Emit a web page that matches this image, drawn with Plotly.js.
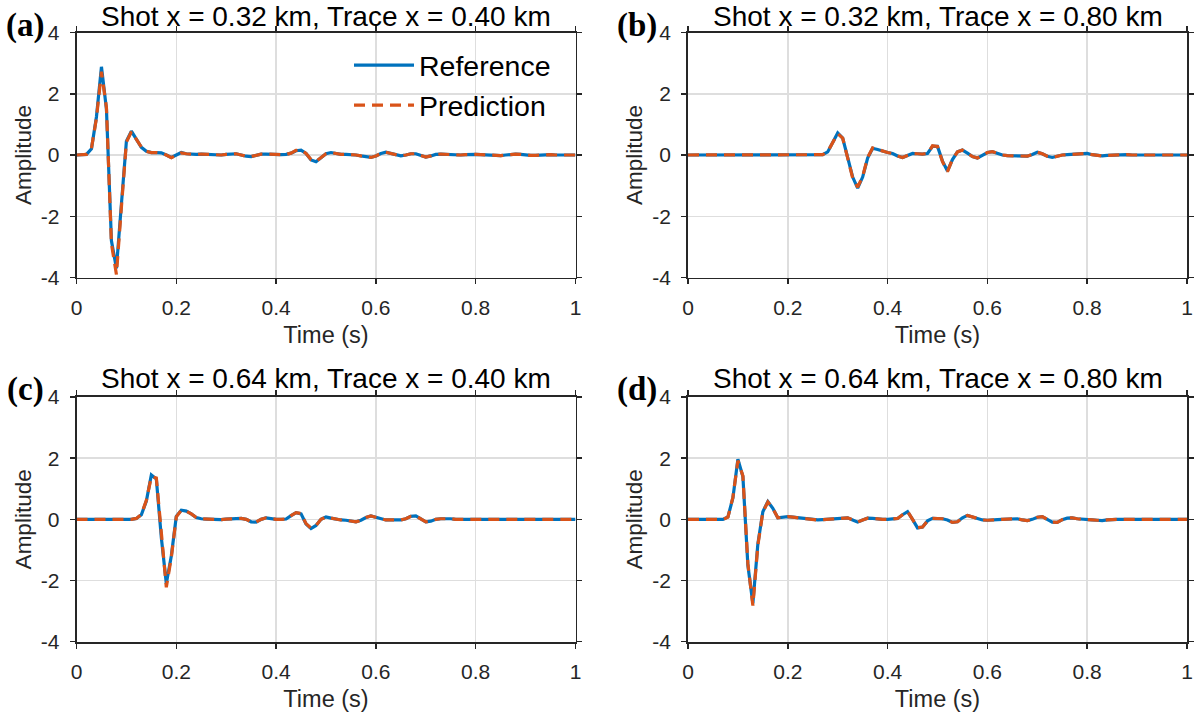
<!DOCTYPE html>
<html>
<head>
<meta charset="utf-8">
<script src="https://cdn.plot.ly/plotly-3.0.1.min.js"></script>
<style>html,body{margin:0;padding:0;background:#fff;}#chart{width:1194px;height:719px;}</style>
</head>
<body>
<div id="chart"></div>
<script>
// ---- Data ----
const time = [0.00,0.01,0.02,0.03,0.04,0.05,0.06,0.07,0.08,0.09,
  0.10,0.11,0.12,0.13,0.14,0.15,0.16,0.17,0.18,0.19,
  0.20,0.21,0.22,0.23,0.24,0.25,0.26,0.27,0.28,0.29,
  0.30,0.31,0.32,0.33,0.34,0.35,0.36,0.37,0.38,0.39,
  0.40,0.41,0.42,0.43,0.44,0.45,0.46,0.47,0.48,0.49,
  0.50,0.51,0.52,0.53,0.54,0.55,0.56,0.57,0.58,0.59,
  0.60,0.61,0.62,0.63,0.64,0.65,0.66,0.67,0.68,0.69,
  0.70,0.71,0.72,0.73,0.74,0.75,0.76,0.77,0.78,0.79,
  0.80,0.81,0.82,0.83,0.84,0.85,0.86,0.87,0.88,0.89,
  0.90,0.91,0.92,0.93,0.94,0.95,0.96,0.97,0.98,0.99,1.00];

// (a) Shot 0.32 km, Trace 0.40 km
const refA = [0,0,0.02,0.2,1.25,2.88,1.5,-2.8,-3.7,-1.6,
  0.45,0.78,0.5,0.25,0.12,0.08,0.08,0.07,0.0,-0.08,
  0.0,0.08,0.04,0.02,0.02,0.03,0.02,0.01,0.0,0.0,
  0.02,0.04,0.04,0.0,-0.04,-0.05,-0.01,0.03,0.03,0.02,
  0.02,0.01,0.02,0.06,0.14,0.16,0.05,-0.16,-0.22,-0.1,
  0.04,0.08,0.05,0.02,0.02,0.02,0.0,-0.03,-0.06,-0.08,
  -0.03,0.05,0.09,0.05,-0.01,-0.03,0.0,0.04,0.04,-0.02,
  -0.07,-0.03,0.02,0.03,0.02,0.01,0.0,0.0,0.01,0.02,
  0.02,0.01,0.0,-0.01,-0.02,-0.02,0.0,0.02,0.03,0.02,
  0.0,-0.01,-0.01,0.0,0.01,0.01,0.0,0.0,0.0,0.0,0.0];
const predA = [0,0,0.02,0.22,1.2,2.72,1.55,-2.9,-3.9,-1.7,
  0.42,0.76,0.5,0.26,0.12,0.08,0.08,0.06,0.0,-0.09,
  0.0,0.07,0.04,0.02,0.02,0.03,0.02,0.01,0.0,0.0,
  0.02,0.04,0.04,0.0,-0.04,-0.05,-0.01,0.03,0.03,0.02,
  0.02,0.01,0.02,0.06,0.15,0.17,0.05,-0.15,-0.21,-0.1,
  0.04,0.08,0.05,0.02,0.02,0.02,0.0,-0.03,-0.06,-0.08,
  -0.03,0.05,0.09,0.05,-0.01,-0.03,0.0,0.04,0.04,-0.02,
  -0.07,-0.03,0.02,0.03,0.02,0.01,0.0,0.0,0.01,0.02,
  0.02,0.01,0.0,-0.01,-0.02,-0.02,0.0,0.02,0.03,0.02,
  0.0,-0.01,-0.01,0.0,0.01,0.01,0.0,0.0,0.0,0.0,0.0];

// (b) Shot 0.32 km, Trace 0.80 km
const refB = [0,0,0,0,0,0,0,0,0,0,
  0,0,0,0,0,0,0,0,0,0,
  0,0,0,0,0,0,0,0.01,0.1,0.4,
  0.72,0.55,-0.1,-0.72,-1.08,-0.72,-0.1,0.22,0.18,0.12,
  0.08,0.05,-0.03,-0.08,-0.02,0.05,0.04,0.03,0.05,0.28,
  0.28,-0.2,-0.52,-0.15,0.1,0.16,0.06,-0.05,-0.1,-0.02,
  0.08,0.11,0.05,0.0,-0.02,-0.03,-0.03,-0.04,-0.04,0.02,
  0.09,0.04,-0.04,-0.08,-0.04,0.0,0.01,0.02,0.03,0.05,
  0.05,0.01,-0.02,-0.03,-0.01,0.0,0.0,0.01,0.01,0.0,
  0.0,0.0,0.0,0.0,0.0,0.0,0.0,0.0,0.0,0.0,0.0];
const predB = [0,0,0,0,0,0,0,0,0,0,
  0,0,0,0,0,0,0,0,0,0,
  0,0,0,0,0,0,0,0.01,0.11,0.42,
  0.7,0.55,-0.12,-0.75,-1.05,-0.7,-0.08,0.23,0.18,0.12,
  0.08,0.05,-0.03,-0.08,-0.02,0.05,0.04,0.03,0.05,0.3,
  0.28,-0.22,-0.54,-0.14,0.1,0.16,0.06,-0.05,-0.1,-0.02,
  0.08,0.11,0.05,0.0,-0.02,-0.03,-0.03,-0.04,-0.04,0.02,
  0.09,0.04,-0.04,-0.08,-0.04,0.0,0.01,0.02,0.03,0.05,
  0.05,0.01,-0.02,-0.03,-0.01,0.0,0.0,0.01,0.01,0.0,
  0.0,0.0,0.0,0.0,0.0,0.0,0.0,0.0,0.0,0.0,0.0];

// (c) Shot 0.64 km, Trace 0.40 km
const refC = [0,0,0,0,0,0,0,0,0,0,
  0,0,0.03,0.15,0.6,1.45,1.32,-0.6,-2.1,-1.2,
  0.1,0.3,0.27,0.18,0.06,0.02,0.01,0.0,-0.02,-0.01,
  0.01,0.02,0.03,0.03,0.0,-0.08,-0.09,0.0,0.05,0.02,
  0.0,0.0,0.01,0.12,0.22,0.18,-0.15,-0.3,-0.2,0.0,
  0.08,0.04,0.0,-0.02,-0.03,-0.06,-0.08,-0.03,0.06,0.11,
  0.06,0.01,-0.02,-0.02,-0.02,-0.02,0.02,0.1,0.11,0.0,
  -0.08,-0.06,0.0,0.02,0.03,0.02,0.0,0.0,0.0,0.01,
  0.01,0.0,0.0,0.0,0.0,0.0,0.0,0.0,0.0,0.0,
  0.0,0.0,0.0,0.0,0.0,0.0,0.0,0.0,0.0,0.0,0.0];
const predC = [0,0,0,0,0,0,0,0,0,0,
  0,0,0.03,0.16,0.62,1.4,1.35,-0.55,-2.22,-1.25,
  0.08,0.3,0.27,0.18,0.06,0.02,0.01,0.0,-0.02,-0.01,
  0.01,0.02,0.03,0.03,0.0,-0.08,-0.09,0.0,0.05,0.02,
  0.0,0.0,0.01,0.12,0.22,0.19,-0.14,-0.29,-0.2,0.0,
  0.08,0.04,0.0,-0.02,-0.03,-0.06,-0.08,-0.03,0.06,0.11,
  0.06,0.01,-0.02,-0.02,-0.02,-0.02,0.02,0.1,0.11,0.0,
  -0.08,-0.06,0.0,0.02,0.03,0.02,0.0,0.0,0.0,0.01,
  0.01,0.0,0.0,0.0,0.0,0.0,0.0,0.0,0.0,0.0,
  0.0,0.0,0.0,0.0,0.0,0.0,0.0,0.0,0.0,0.0,0.0];

// (d) Shot 0.64 km, Trace 0.80 km
const refD = [0,0,0,0,0,0,0,0,0.08,0.7,
  1.97,1.4,-1.5,-2.75,-0.8,0.25,0.58,0.36,0.05,0.06,
  0.09,0.07,0.05,0.03,0.01,-0.01,-0.02,-0.01,0.0,0.0,
  0.01,0.03,0.05,-0.02,-0.09,-0.02,0.04,0.03,0.01,0.0,
  0.0,0.01,0.03,0.15,0.25,0.0,-0.28,-0.25,-0.05,0.03,
  0.03,0.02,-0.02,-0.1,-0.08,0.05,0.13,0.08,0.02,-0.02,
  -0.03,-0.03,-0.01,0.0,0.01,0.03,0.02,-0.02,-0.04,0.0,
  0.07,0.09,0.0,-0.09,-0.1,-0.01,0.04,0.05,0.02,0.0,
  -0.01,-0.02,-0.03,-0.04,-0.02,0.0,0.0,0.0,0.0,0.0,
  0.0,0.0,0.0,0.0,0.0,0.0,0.0,0.0,0.0,0.0,0.0];
const predD = [0,0,0,0,0,0,0,0,0.07,0.72,
  1.92,1.42,-1.45,-2.82,-0.85,0.24,0.57,0.36,0.05,0.06,
  0.09,0.07,0.05,0.03,0.01,-0.01,-0.02,-0.01,0.0,0.0,
  0.01,0.03,0.05,-0.02,-0.09,-0.02,0.04,0.03,0.01,0.0,
  0.0,0.01,0.03,0.15,0.26,0.0,-0.27,-0.25,-0.05,0.03,
  0.03,0.02,-0.02,-0.1,-0.08,0.05,0.13,0.08,0.02,-0.02,
  -0.03,-0.03,-0.01,0.0,0.01,0.03,0.02,-0.02,-0.04,0.0,
  0.07,0.09,0.0,-0.09,-0.1,-0.01,0.04,0.05,0.02,0.0,
  -0.01,-0.02,-0.03,-0.04,-0.02,0.0,0.0,0.0,0.0,0.0,
  0.0,0.0,0.0,0.0,0.0,0.0,0.0,0.0,0.0,0.0,0.0];

const panelTitles = [
  "Shot x = 0.32 km, Trace x = 0.40 km",
  "Shot x = 0.32 km, Trace x = 0.80 km",
  "Shot x = 0.64 km, Trace x = 0.40 km",
  "Shot x = 0.64 km, Trace x = 0.80 km"
];
const panelLabels = ["(a)", "(b)", "(c)", "(d)"];
const seriesNames = ["Reference", "Prediction"];
const xTickVals = [0, 0.2, 0.4, 0.6, 0.8, 1];
const xTickText = ["0", "0.2", "0.4", "0.6", "0.8", "1"];
const yTickVals = [-4, -2, 0, 2, 4];
const yTickText = ["-4", "-2", "0", "2", "4"];
const xLabel = "Time (s)";
const yLabel = "Amplitude";

// ---- Layout ----
const W = 1194, H = 719;
const refs = [refA, refB, refC, refD];
const preds = [predA, predB, predC, predD];
const FONT = "Liberation Sans, Arial, Helvetica, sans-serif";
const colRef = "#0072BD", colPred = "#D95319";
const xDomains = [[76.5/W, 575.5/W], [688/W, 1187/W]];
const yDomains = [[(H-277.5)/H, (H-32.5)/H], [(H-641.7)/H, (H-397)/H]];

const traces = [];
const layout = {
  width: W, height: H,
  margin: {l:0, r:0, t:0, b:0},
  paper_bgcolor: "#ffffff", plot_bgcolor: "#ffffff",
  font: {family: FONT, color: "#262626"},
  showlegend: true,
  legend: {
    x: 349/W, y: 1 - 40/H, xanchor: "left", yanchor: "top",
    bgcolor: "rgba(0,0,0,0)", borderwidth: 0,
    font: {family: FONT, size: 28.5, color: "#000"},
    itemwidth: 60, tracegroupgap: 0
  },
  annotations: [],
  shapes: []
};

for (let i = 0; i < 4; i++) {
  const row = Math.floor(i / 2), col = i % 2;
  const xa = i === 0 ? "x" : "x" + (i + 1);
  const ya = i === 0 ? "y" : "y" + (i + 1);
  const xkey = i === 0 ? "xaxis" : "xaxis" + (i + 1);
  const ykey = i === 0 ? "yaxis" : "yaxis" + (i + 1);
  traces.push({
    x: time, y: refs[i], xaxis: xa, yaxis: ya, type: "scatter", mode: "lines",
    name: seriesNames[0], showlegend: i === 0,
    line: {color: colRef, width: 3.2}
  });
  traces.push({
    x: time, y: preds[i], xaxis: xa, yaxis: ya, type: "scatter", mode: "lines",
    name: seriesNames[1], showlegend: i === 0,
    line: {color: colPred, width: 3.2, dash: "11px,7px"}
  });
  const common = {
    showline: true, linecolor: "#262626", linewidth: 1.8,
    mirror: "ticks", ticks: "outside", ticklen: 5, tickwidth: 1.5, tickcolor: "#262626",
    showgrid: true, gridcolor: "#dedede", gridwidth: 1.5,
    zeroline: false, automargin: false,
    tickfont: {family: FONT, size: 21, color: "#262626"}
  };
  layout[xkey] = Object.assign({}, common, {
    domain: xDomains[col], anchor: ya, range: [0, 1],
    tickmode: "array", tickvals: xTickVals, ticktext: xTickText,
    ticklabelstandoff: 5,
    title: {text: xLabel, font: {family: FONT, size: 23.5, color: "#262626"}, standoff: 9}
  });
  layout[ykey] = Object.assign({}, common, {
    domain: yDomains[row], anchor: xa, range: [-4, 4],
    tickmode: "array", tickvals: yTickVals, ticktext: yTickText,
    ticklabelstandoff: 6,
    title: {text: yLabel, font: {family: FONT, size: 22.5, color: "#262626"}, standoff: 3}
  });
  const cx = (xDomains[col][0] + xDomains[col][1]) / 2;
  const titleY = row === 0 ? 1 : 1 - 362/H;
  layout.annotations.push({
    text: panelTitles[i], xref: "paper", yref: "paper",
    x: cx, y: titleY, xanchor: "center", yanchor: "top", showarrow: false,
    borderpad: 0,
    font: {family: FONT, size: 28, color: "#000"}
  });
  const lx = col === 0 ? 25/W : 637/W;
  const ly = row === 0 ? 1 - 25/H : 1 - 390/H;
  layout.annotations.push({
    text: "<b>" + panelLabels[i] + "</b>", xref: "paper", yref: "paper",
    x: lx, y: ly, xanchor: "center", yanchor: "middle", showarrow: false,
    font: {family: "Liberation Serif, Times New Roman, serif", size: 33, color: "#000"}
  });
}

Plotly.newPlot("chart", traces, layout, {staticPlot: true, displayModeBar: false});
</script>
</body>
</html>
